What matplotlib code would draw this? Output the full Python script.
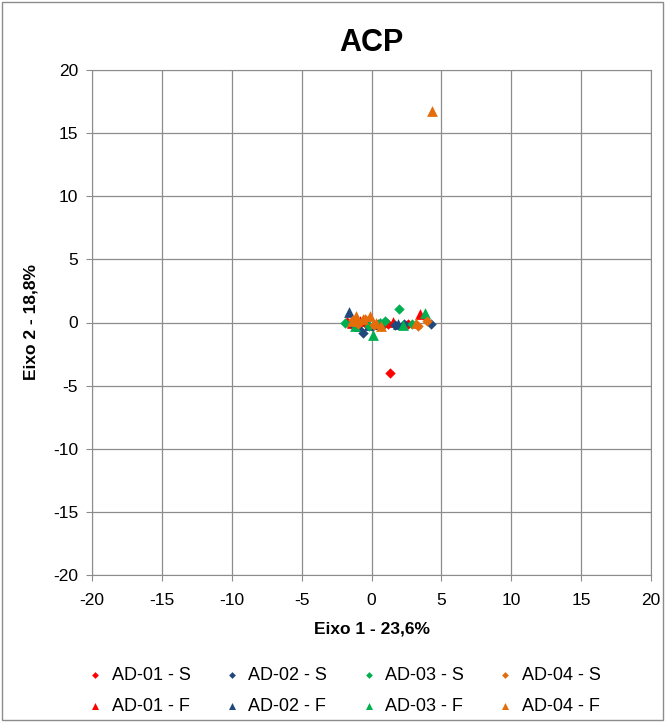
import matplotlib.pyplot as plt
import numpy as np

plt.rcParams['font.family'] = ['Liberation Sans', 'DejaVu Sans']
plt.rcParams['axes.unicode_minus'] = False

# PCA scores (Eixo 1, Eixo 2) per sample group
ad01_s_x = [1.32, 1.2, -1.75, 0.9, -0.3, 2.6]
ad01_s_y = [-4.0, -0.12, 0.05, -0.1, -0.2, -0.1]
ad02_s_x = [4.26, -0.58, 1.68, -1.5, 0.4, 2.3]
ad02_s_y = [-0.12, -0.86, -0.2, 0.0, -0.2, -0.1]
ad03_s_x = [2.0, -1.9, 0.6, -0.2, 1.0, 2.9]
ad03_s_y = [1.07, 0.0, -0.06, -0.3, 0.1, -0.15]
ad04_s_x = [3.95, -1.0, -0.5, 0.2, 3.3, -1.3]
ad04_s_y = [0.15, -0.1, 0.3, -0.2, -0.3, 0.2]

ad01_f_x = [3.47, 1.56, -0.8, 0.3, -1.4]
ad01_f_y = [0.67, 0.07, 0.1, -0.15, 0.0]
ad02_f_x = [-1.6, -0.9, 0.5, 1.9, -0.2]
ad02_f_y = [0.83, -0.3, -0.1, -0.15, -0.2]
ad03_f_x = [3.83, 0.13, 2.28, 0.6, -1.2]
ad03_f_y = [0.78, -0.99, -0.2, -0.06, -0.3]
ad04_f_x = [4.33, 3.2, -1.1, -0.6, -0.1, 0.7, -1.4, 0.3]
ad04_f_y = [16.75, -0.07, 0.5, 0.3, 0.55, -0.3, 0.1, 0.0]

labels = ['AD-01', 'AD-02', 'AD-03', 'AD-04']
colors = ['#FF0000', '#1F497D', '#00B050', '#E46C0A']
s_data = [(ad01_s_x, ad01_s_y), (ad02_s_x, ad02_s_y), (ad03_s_x, ad03_s_y), (ad04_s_x, ad04_s_y)]
f_data = [(ad01_f_x, ad01_f_y), (ad02_f_x, ad02_f_y), (ad03_f_x, ad03_f_y), (ad04_f_x, ad04_f_y)]

fig = plt.figure(figsize=(6.65, 7.22), dpi=100)
ax = fig.add_axes([92 / 665, 1 - 575 / 722, (651 - 92) / 665, (575 - 70) / 722])

handles = []
for lab, col, (sx, sy), (fx, fy) in zip(labels, colors, s_data, f_data):
    hs = ax.scatter(sx, sy, marker='D', s=28, color=col, label=lab + ' - S', zorder=3, linewidths=0)
    hf = ax.scatter(fx, fy, marker='^', s=60, color=col, label=lab + ' - F', zorder=3, linewidths=0)
    handles += [hs, hf]

ax.set_xlim(-20, 20)
ax.set_ylim(-20, 20)
ax.set_xticks(np.arange(-20, 21, 5))
ax.set_yticks(np.arange(-20, 21, 5))
ax.grid(True, color='#8c8c8c', linewidth=0.9)
ax.set_axisbelow(True)
for sp in ax.spines.values():
    sp.set_color('#8c8c8c')
ax.tick_params(colors='#8c8c8c', labelcolor='black', labelsize=12.5, direction='out', length=4)
ax.tick_params(axis='x', pad=9)
ax.tick_params(axis='y', pad=6)

ax.set_title('ACP', fontsize=22, fontweight='bold', pad=14)
ax.set_xlabel('Eixo 1 - 23,6%', fontsize=12.5, fontweight='bold', labelpad=10)
ax.set_ylabel('Eixo 2 - 18,8%', fontsize=12.5, fontweight='bold', labelpad=10)

fig.legend(handles=handles, loc='upper left', bbox_to_anchor=(0.1055, 0.099), ncol=4,
           frameon=False, fontsize=13, markerscale=0.65, handlelength=1.0,
           handletextpad=0.4, columnspacing=1.8, labelspacing=0.8)

border = plt.Rectangle((0.003, 0.003), 0.994, 0.994, transform=fig.transFigure,
                       fill=False, edgecolor='#8c8c8c', linewidth=1)
fig.patches.append(border)

fig.savefig('out.png', dpi=100)
